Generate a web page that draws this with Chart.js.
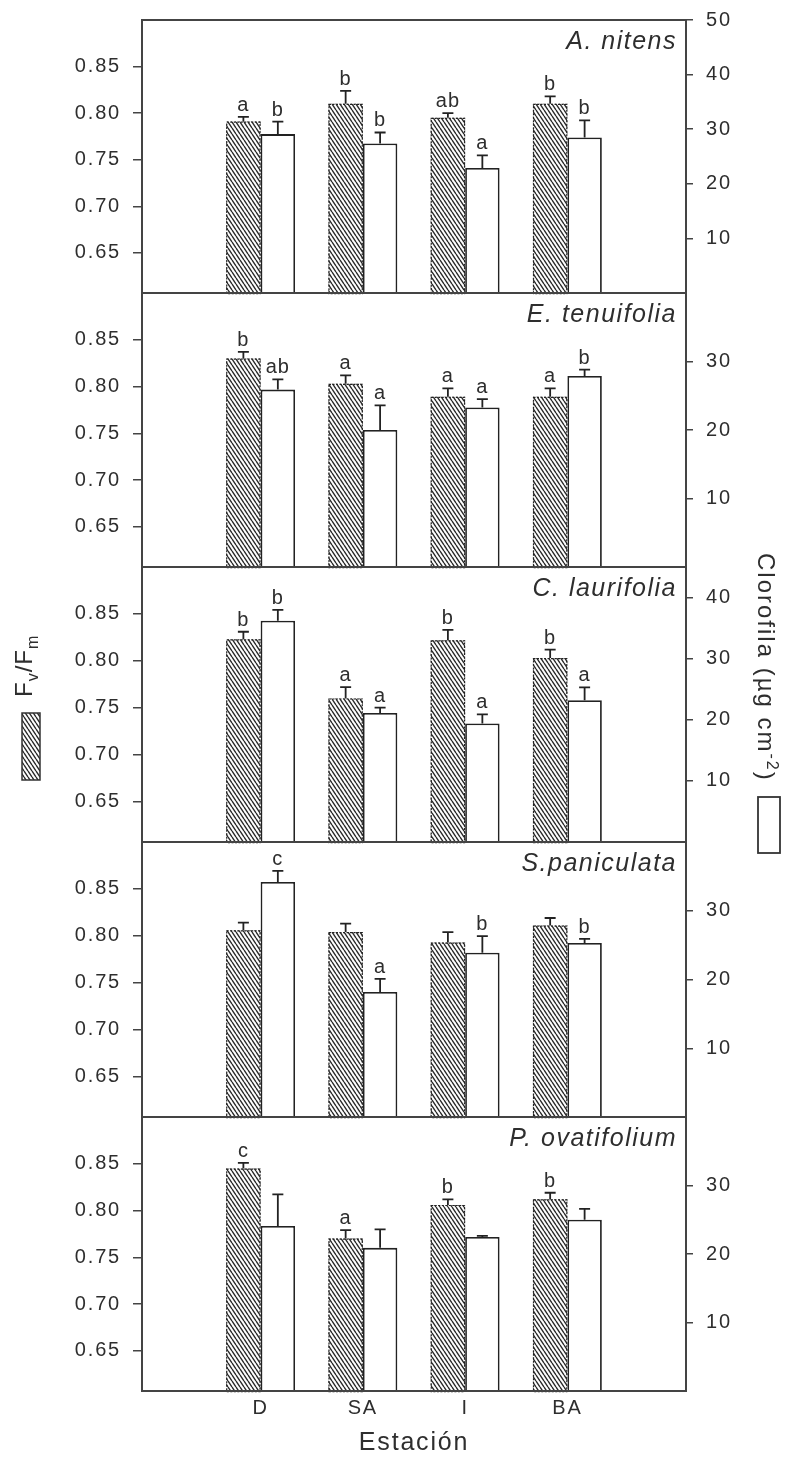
<!DOCTYPE html>
<html>
<head>
<meta charset="utf-8">
<script src="https://cdn.jsdelivr.net/npm/chart.js@4.4.1/dist/chart.umd.min.js"></script>
<style>
  html, body { margin: 0; padding: 0; background: #fff; }
  #figure { position: relative; width: 787px; height: 1463px; overflow: hidden; }
  #figure canvas { position: absolute; left: 0; }
</style>
</head>
<body>
<div id="figure"></div>
<script>
    // ---- data ----
    const stations = ['D', 'SA', 'I', 'BA'];
    const species = ['A. nitens', 'E. tenuifolia', 'C. laurifolia', 'S.paniculata', 'P. ovatifolium'];

    // Fv/Fm (hatched bars, left axis), one row per species
    const fvfm = [
        [0.791, 0.810, 0.795, 0.810],
        [0.830, 0.803, 0.789, 0.789],
        [0.823, 0.760, 0.822, 0.803],
        [0.806, 0.804, 0.793, 0.811],
        [0.845, 0.770, 0.806, 0.812]
    ];
    const fvfmErr = [
        [0.005, 0.014, 0.005, 0.008],
        [0.007, 0.009, 0.009, 0.009],
        [0.008, 0.012, 0.011, 0.009],
        [0.008, 0.009, 0.011, 0.008],
        [0.006, 0.009, 0.006, 0.007]
    ];
    const fvfmLetters = [
        ['a', 'b', 'ab', 'b'],
        ['b', 'a', 'a', 'a'],
        ['b', 'a', 'b', 'b'],
        ['', '', '', ''],
        ['c', 'a', 'b', 'b']
    ];

    // Clorofila (white bars, right axis)
    const chl = [
        [29.1, 27.4, 22.9, 28.5],
        [25.9, 20.0, 23.3, 27.9],
        [36.2, 21.1, 19.4, 23.2],
        [34.2, 18.2, 23.9, 25.3],
        [24.1, 20.9, 22.5, 25.0]
    ];
    const chlErr = [
        [2.3, 2.0, 2.3, 3.1],
        [1.5, 3.6, 1.2, 0.9],
        [1.8, 0.9, 1.5, 2.1],
        [1.6, 1.9, 2.4, 0.6],
        [4.6, 2.7, 0.15, 1.6]
    ];
    const chlLetters = [
        ['b', 'b', 'a', 'b'],
        ['ab', 'a', 'a', 'b'],
        ['b', 'a', 'a', 'a'],
        ['c', 'a', 'b', 'b'],
        ['', '', '', '']
    ];

    // axes
    const fvfmTicks = [0.65, 0.70, 0.75, 0.80, 0.85];
    const fvfmMin = 0.607;
    const fvfmMax = 0.90;
    const chlMax = [50, 40, 45, 40, 40];
    const chlTicks = [
        [10, 20, 30, 40, 50],
        [10, 20, 30],
        [10, 20, 30, 40],
        [10, 20, 30],
        [10, 20, 30]
    ];

    // ---- layout / style ----
    const W = 787, H = 1463;
    const PLOT_LEFT = 142, PLOT_RIGHT = 686;
    const panelTop = [20, 293, 567, 842, 1117];
    const panelBottom = [293, 567, 842, 1117, 1391];
    const PAD = 30;
    const FONT = '"Liberation Sans", Arial, sans-serif';
    const INK = '#2e2e2e';
    const FRAME = '#444';

    Chart.defaults.font.family = FONT;
    Chart.defaults.color = INK;

    function makeHatch() {
        const c = document.createElement('canvas');
        c.width = 4;
        c.height = 6;
        const g = c.getContext('2d');
        g.fillStyle = '#fff';
        g.fillRect(0, 0, 4, 6);
        g.strokeStyle = '#2a2a2a';
        g.lineWidth = 1.4;
        g.beginPath();
        for (const k of [-4, 0, 4]) {
            g.moveTo(k, 0);
            g.lineTo(k + 4, 6);
        }
        g.stroke();
        return g.createPattern(c, 'repeat');
    }
    const hatch = makeHatch();

    function drawRun(ctx, text, x, dy, size) {
        ctx.font = size + 'px ' + FONT;
        ctx.fillText(text, x, dy);
        return x + ctx.measureText(text).width;
    }

    // axis titles with their key boxes (drawn on the middle panel's canvas)
    function drawLegends(chart, offsetY) {
        const ctx = chart.ctx;
        ctx.save();
        ctx.fillStyle = INK;
        ctx.textAlign = 'left';
        ctx.textBaseline = 'alphabetic';

        // Fv/Fm, reading upward
        ctx.letterSpacing = '1px';
        ctx.save();
        ctx.translate(32, 697 - offsetY);
        ctx.rotate(-Math.PI / 2);
        let x = 0;
        x = drawRun(ctx, 'F', x, 0, 24);
        x = drawRun(ctx, 'v', x, 6, 16);
        x = drawRun(ctx, '/F', x, 0, 24);
        drawRun(ctx, 'm', x, 6, 16);
        ctx.restore();

        ctx.fillStyle = hatch;
        ctx.fillRect(22, 713 - offsetY, 18, 67);
        ctx.strokeStyle = '#333';
        ctx.lineWidth = 1.5;
        ctx.strokeRect(22, 713 - offsetY, 18, 67);

        // Clorofila, reading downward
        ctx.fillStyle = INK;
        ctx.letterSpacing = '2px';
        ctx.save();
        ctx.translate(758, 553 - offsetY);
        ctx.rotate(Math.PI / 2);
        x = drawRun(ctx, 'Clorofila (µg cm', 0, 0, 24);
        x = drawRun(ctx, '-2', x, -9, 16);
        drawRun(ctx, ')', x, 0, 24);
        ctx.restore();

        ctx.fillStyle = '#fff';
        ctx.fillRect(758, 797 - offsetY, 22, 56);
        ctx.strokeStyle = '#333';
        ctx.lineWidth = 1.8;
        ctx.strokeRect(758, 797 - offsetY, 22, 56);
        ctx.restore();
    }

    function panelDecor(p, canvasTop) {
        return {
            id: 'panelDecor',
            beforeDraw(chart) {
                chart.ctx.letterSpacing = '1.8px';
            },
            afterDatasetsDraw(chart) {
                const ctx = chart.ctx;
                const area = chart.chartArea;
                const errs = [fvfmErr[p], chlErr[p]];
                const letters = [fvfmLetters[p], chlLetters[p]];
                ctx.save();

                // dotted outline around hatched bars
                ctx.strokeStyle = '#222';
                ctx.lineWidth = 1.2;
                ctx.setLineDash([2, 1.5]);
                chart.getDatasetMeta(0).data.forEach(bar => {
                    const bottom = Math.min(bar.base, area.bottom);
                    ctx.strokeRect(bar.x - bar.width / 2 + 0.6, bar.y + 0.6, bar.width - 1.2, bottom - bar.y);
                });
                ctx.setLineDash([]);

                // error bars + letters
                ctx.strokeStyle = '#222';
                ctx.lineWidth = 1.8;
                ctx.fillStyle = INK;
                ctx.font = '20px ' + FONT;
                ctx.letterSpacing = '1px';
                ctx.textAlign = 'center';
                ctx.textBaseline = 'alphabetic';
                [0, 1].forEach(d => {
                    const meta = chart.getDatasetMeta(d);
                    const scale = chart.scales[meta.yAxisID];
                    meta.data.forEach((bar, i) => {
                        const value = chart.data.datasets[d].data[i].y;
                        const yTop = scale.getPixelForValue(value + errs[d][i]);
                        ctx.beginPath();
                        ctx.moveTo(bar.x, bar.y);
                        ctx.lineTo(bar.x, yTop);
                        ctx.moveTo(bar.x - 5.5, yTop);
                        ctx.lineTo(bar.x + 5.5, yTop);
                        ctx.stroke();
                        if (letters[d][i]) ctx.fillText(letters[d][i], bar.x, yTop - 6);
                    });
                });

                // species name
                ctx.font = 'italic 25px ' + FONT;
                ctx.letterSpacing = '1.5px';
                ctx.textAlign = 'right';
                ctx.fillText(species[p], area.right - 9, area.top + 29);

                // frame
                ctx.strokeStyle = FRAME;
                ctx.lineWidth = 2;
                ctx.strokeRect(area.left, area.top, area.right - area.left, area.bottom - area.top);
                ctx.restore();
            },
            afterDraw(chart) {
                if (p === 2) drawLegends(chart, canvasTop);
            }
        };
    }

    const figure = document.getElementById('figure');

    species.forEach((name, p) => {
        const isLast = p === species.length - 1;
        const top = panelTop[p] - PAD;
        const height = isLast ? H - top : (panelBottom[p] - panelTop[p]) + 2 * PAD;

        const canvas = document.createElement('canvas');
        canvas.width = W;
        canvas.height = height;
        canvas.style.top = top + 'px';
        canvas.style.width = W + 'px';
        canvas.style.height = height + 'px';
        figure.appendChild(canvas);

        new Chart(canvas, {
            type: 'bar',
            data: {
                datasets: [{
                    label: 'Fv/Fm',
                    data: stations.map((s, i) => ({ x: i, y: fvfm[p][i] })),
                    yAxisID: 'yL',
                    backgroundColor: hatch,
                    borderWidth: 0,
                    categoryPercentage: 0.674,
                    barPercentage: 1
                }, {
                    label: 'Clorofila',
                    data: stations.map((s, i) => ({ x: i, y: chl[p][i] })),
                    yAxisID: 'yR',
                    backgroundColor: '#fff',
                    borderColor: '#222',
                    borderWidth: 1.8,
                    categoryPercentage: 0.674,
                    barPercentage: 1
                }]
            },
            options: {
                responsive: false,
                animation: false,
                devicePixelRatio: 1,
                layout: { padding: { top: PAD, bottom: isLast ? 0 : PAD, left: 0, right: 0 } },
                plugins: {
                    legend: { display: false },
                    tooltip: { enabled: false }
                },
                scales: {
                    x: {
                        type: 'linear',
                        offset: false,
                        min: -1.16,
                        max: 4.16,
                        display: isLast,
                        afterBuildTicks: axis => { axis.ticks = stations.map((s, i) => ({ value: i })); },
                        afterFit: axis => { axis.height = isLast ? H - panelBottom[4] : 0; },
                        grid: { display: false, drawTicks: false },
                        border: { display: false },
                        ticks: {
                            callback: v => stations[v],
                            color: INK,
                            font: { size: 20 },
                            padding: 5,
                            maxRotation: 0,
                            autoSkip: false
                        },
                        title: {
                            display: true,
                            text: 'Estación',
                            color: INK,
                            font: { size: 25 },
                            padding: { top: 0, bottom: 5 }
                        }
                    },
                    yL: {
                        position: 'left',
                        min: fvfmMin,
                        max: fvfmMax,
                        beginAtZero: false,
                        afterBuildTicks: axis => { axis.ticks = fvfmTicks.map(v => ({ value: v })); },
                        afterFit: axis => { axis.width = PLOT_LEFT; },
                        grid: { drawOnChartArea: false, drawTicks: true, tickLength: 9, color: FRAME, lineWidth: 1.5 },
                        border: { display: false },
                        ticks: {
                            callback: v => v.toFixed(2),
                            color: INK,
                            font: { size: 20 },
                            padding: 12,
                            autoSkip: false
                        }
                    },
                    yR: {
                        position: 'right',
                        min: 0,
                        max: chlMax[p],
                        afterBuildTicks: axis => { axis.ticks = chlTicks[p].map(v => ({ value: v })); },
                        afterFit: axis => { axis.width = W - PLOT_RIGHT; },
                        grid: { drawOnChartArea: false, drawTicks: true, tickLength: 7, color: FRAME, lineWidth: 1.5 },
                        border: { display: false },
                        ticks: {
                            callback: v => String(v),
                            color: INK,
                            font: { size: 20 },
                            padding: 13,
                            autoSkip: false
                        }
                    }
                }
            },
            plugins: [panelDecor(p, top)]
        });
    });
</script>
</body>
</html>
